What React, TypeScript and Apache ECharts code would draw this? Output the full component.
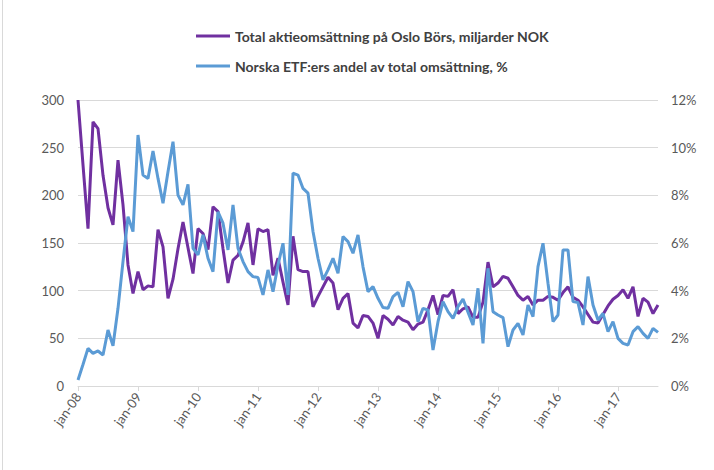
import React, { useEffect, useRef } from "react";
import * as echarts from "echarts";

const MONTHS = ["jan", "feb", "mar", "apr", "maj", "jun", "jul", "aug", "sep", "okt", "nov", "dec"];
const START_YEAR = 8; // 2008

const SERIES_NAMES = [
  "Total aktieomsättning på Oslo Börs, miljarder NOK",
  "Norska ETF:ers andel av total omsättning, %",
];

// Total turnover, billion NOK (left axis), monthly jan-08 .. sep-17
const turnover = [
  300, 232, 165, 277, 270, 221, 187, 169, 237, 190, 127, 97,
  120, 101, 105, 104, 164, 146, 92, 112, 144, 172, 145, 118,
  165, 160, 143, 188, 183, 144, 108, 132, 137, 151, 171, 127,
  165, 162, 164, 116, 134, 109, 85, 157, 122, 120, 120, 83,
  94, 104, 114, 108, 80, 92, 97, 66, 61, 74, 73, 66,
  50, 74, 70, 64, 73, 69, 67, 59, 65, 67, 80, 95,
  75, 95, 94, 101, 76, 81, 83, 72, 72, 88, 130, 104,
  108, 115, 113, 104, 95, 90, 94, 85, 90, 90, 94, 93,
  90, 98, 104, 93, 90, 83, 75, 67, 66, 75, 84, 91,
  95, 101, 92, 104, 73, 92, 88, 76, 85,
];

// Norwegian ETFs' share of total turnover, % (right axis)
const etfShare = [
  0.25, 0.9, 1.58, 1.37, 1.47, 1.3, 2.35, 1.69, 3.26, 5.22, 7.1, 6.48,
  10.53, 8.85, 8.71, 9.86, 8.71, 7.67, 8.99, 10.25, 8.01, 7.6, 8.46, 5.78,
  5.5, 6.34, 5.36, 4.8, 7.31, 6.83, 5.71, 7.6, 5.78, 5.22, 4.8, 4.59,
  4.55, 3.82, 4.87, 3.96, 5.08, 5.99, 3.82, 8.93, 8.85, 8.29, 8.09, 6.48,
  5.36, 4.45, 4.87, 5.36, 4.73, 6.27, 6.06, 5.57, 6.34, 5.0, 3.96, 4.17,
  3.68, 3.29, 3.26, 3.75, 3.93, 3.33, 4.38, 3.96, 2.7, 3.26, 3.19, 1.51,
  2.7, 3.54, 3.12, 2.84, 3.33, 3.65, 3.1, 2.56, 4.1, 1.79, 4.94, 3.12,
  2.98, 2.87, 1.65, 2.35, 2.63, 2.14, 3.4, 2.91, 5.01, 5.99, 4.31, 2.7,
  2.98, 5.71, 5.71, 3.54, 3.5, 2.56, 4.59, 3.4, 2.77, 3.05, 2.28, 2.7,
  2.0, 1.79, 1.72, 2.28, 2.49, 2.21, 2.0, 2.42, 2.25,
];

const categories = turnover.map((_, i) => {
  const yy = START_YEAR + Math.floor(i / 12);
  return MONTHS[i % 12] + "-" + String(yy).padStart(2, "0");
});

const FONT = "Lato, 'Open Sans', sans-serif";
const LABEL_COLOR = "#595959";
const GRID_COLOR = "#d9d9d9";

export default function App() {
  const ref = useRef<HTMLDivElement>(null);

  useEffect(() => {
    if (!ref.current) return;
    const chart = echarts.init(ref.current, undefined, { renderer: "svg" });
    chart.setOption({
      animation: false,
      backgroundColor: "#ffffff",
      grid: { left: 78, right: 56, top: 100, bottom: 84, containLabel: false },
      legend: {
        orient: "vertical",
        left: 196,
        top: 29,
        padding: 0,
        icon: "rect",
        itemWidth: 34,
        itemHeight: 3,
        itemGap: 16,
        textStyle: { fontFamily: FONT, fontWeight: "bold", fontSize: 14, color: "#404040" },
        data: SERIES_NAMES,
      },
      graphic: [
        {
          type: "line",
          shape: { x1: 2.5, y1: 0, x2: 2.5, y2: 470 },
          style: { stroke: GRID_COLOR, lineWidth: 1 },
        },
      ],
      xAxis: {
        type: "category",
        data: categories,
        boundaryGap: false,
        axisLine: { lineStyle: { color: GRID_COLOR, width: 1 } },
        axisTick: { interval: 11, length: 5, lineStyle: { color: GRID_COLOR } },
        axisLabel: {
          interval: 11,
          rotate: 55,
          margin: 8,
          color: LABEL_COLOR,
          fontFamily: FONT,
          fontSize: 13,
        },
      },
      yAxis: [
        {
          type: "value",
          min: 0,
          max: 300,
          interval: 50,
          axisLine: { show: false },
          axisTick: { show: false },
          splitLine: { lineStyle: { color: GRID_COLOR, width: 1 } },
          axisLabel: { margin: 14, color: LABEL_COLOR, fontFamily: FONT, fontSize: 13 },
        },
        {
          type: "value",
          position: "right",
          min: 0,
          max: 12,
          interval: 2,
          axisLine: { show: false },
          axisTick: { show: false },
          splitLine: { show: false },
          axisLabel: {
            margin: 13,
            formatter: "{value}%",
            color: LABEL_COLOR,
            fontFamily: FONT,
            fontSize: 13,
          },
        },
      ],
      series: [
        {
          name: SERIES_NAMES[0],
          type: "line",
          yAxisIndex: 0,
          data: turnover,
          symbol: "none",
          lineStyle: { color: "#7030A0", width: 3 },
          itemStyle: { color: "#7030A0" },
        },
        {
          name: SERIES_NAMES[1],
          type: "line",
          yAxisIndex: 1,
          data: etfShare,
          symbol: "none",
          lineStyle: { color: "#5B9BD5", width: 3 },
          itemStyle: { color: "#5B9BD5" },
        },
      ],
    });
    return () => chart.dispose();
  }, []);

  return (
    <div
      ref={ref}
      style={{ position: "fixed", left: 0, top: 0, width: 714, height: 470, background: "#fff" }}
    />
  );
}
